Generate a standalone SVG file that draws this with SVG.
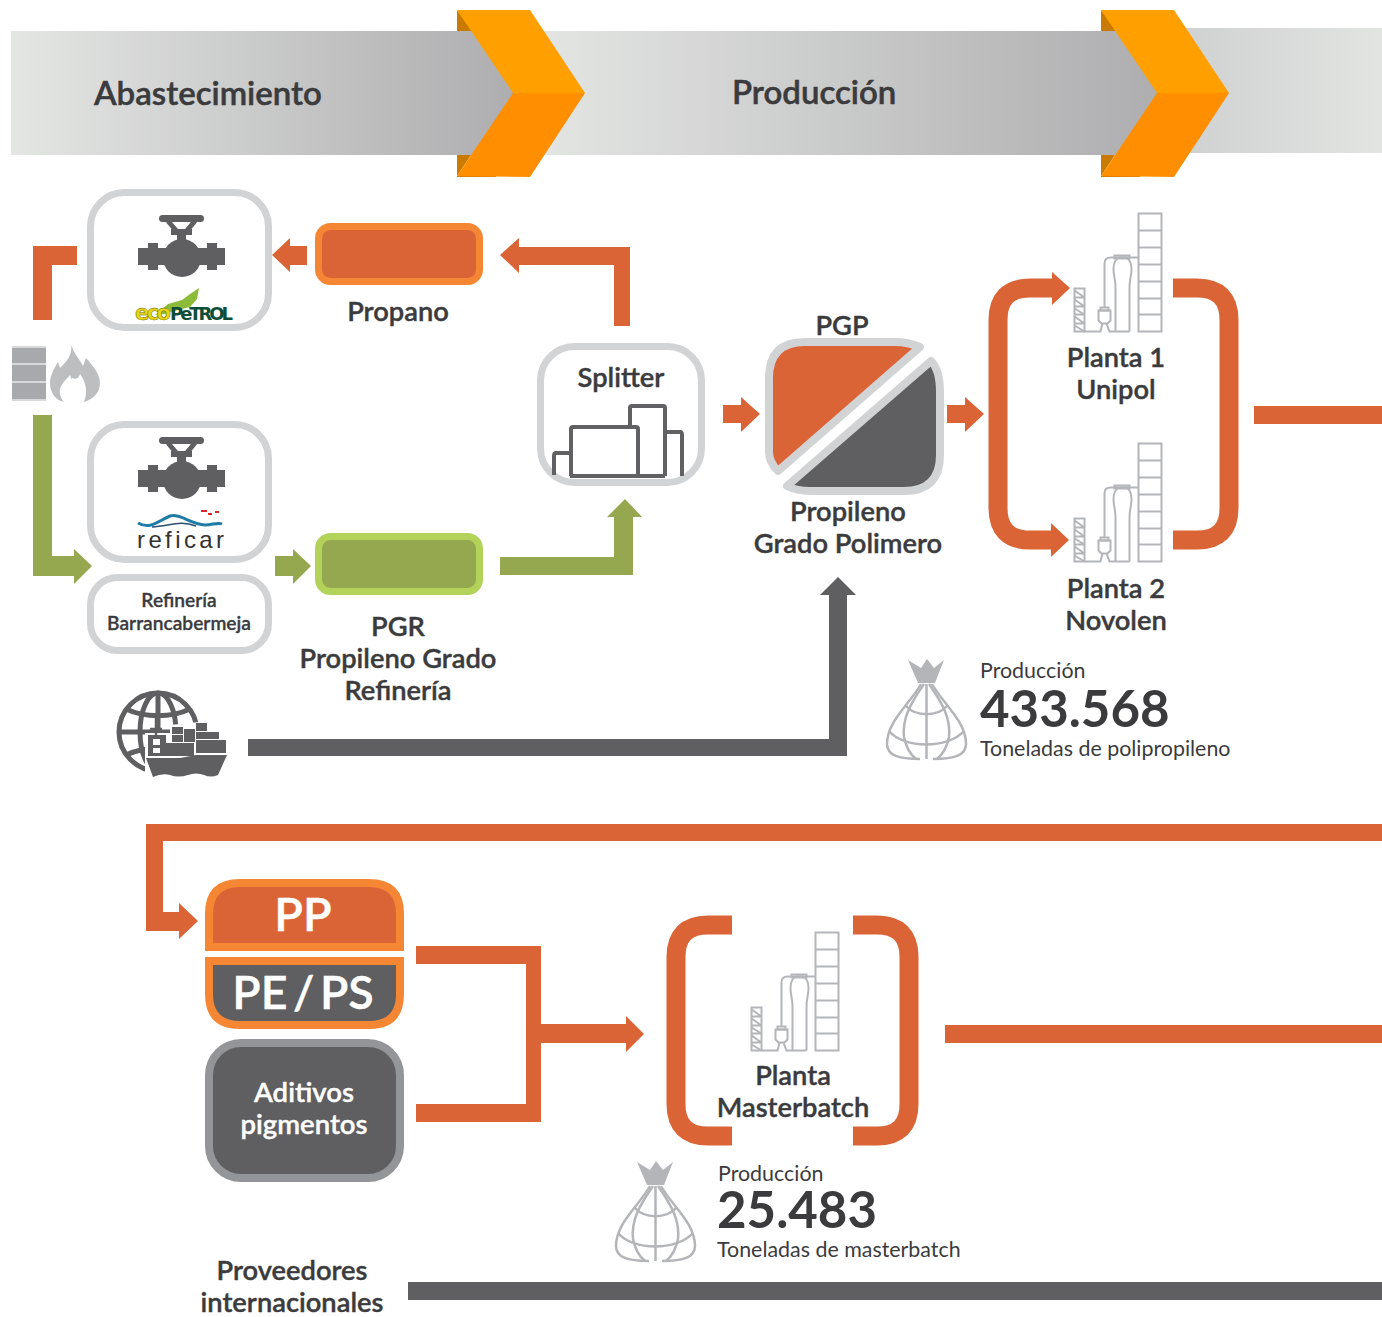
<svg xmlns="http://www.w3.org/2000/svg" xmlns:xlink="http://www.w3.org/1999/xlink" width="1382" height="1317" viewBox="0 0 1382 1317">
<style>
text{font-family:"Lato Semibold","Lato Medium",Lato,"Open Sans","Liberation Sans",sans-serif;fill:#3b3b3d}
.t{font-size:27.300px;font-weight:600;text-anchor:middle;stroke:#3b3b3d;stroke-width:.4}
.h{font-size:33px;font-weight:600;stroke:#3b3b3d;stroke-width:.5}
.s{font-size:21.400px;font-weight:400;font-family:Lato,"Liberation Sans",sans-serif}
.n{font-size:51px;font-weight:700;font-family:Lato,"Liberation Sans",sans-serif}
.w{text-anchor:middle;stroke:#fff;stroke-width:.4}
.o{fill:#db6437}.g{fill:#95a84f}.d{fill:#5f5f61}
.line{fill:none;stroke:#db6437;stroke-width:19}
.box{fill:#fff;stroke:#d2d3d5;stroke-width:7}
.pl{fill:none;stroke:#b4b5b8;stroke-width:2}
.bg{fill:none;stroke:#b4b5b8;stroke-width:2.5}
</style>
<defs>
<linearGradient id="b1" x1="0" x2="1" y1="0" y2="0"><stop offset="0" stop-color="#e4e6e4"/><stop offset="1" stop-color="#aeadaf"/></linearGradient>
<linearGradient id="b3" x1="0" x2="1" y1="0" y2="0"><stop offset="0" stop-color="#cfd0d0"/><stop offset="1" stop-color="#e2e4e2"/></linearGradient>
<g id="chev">
<polygon points="0,0 16,21 0,21" fill="#c97a00"/>
<polygon points="0,145 14,145 0,166" fill="#c97a00"/>
<polygon points="0,166 39,166 39,167 0,167" fill="#d97d00"/>
<polygon points="0,0 73,0 128,83 56,83" fill="#ffa000"/>
<polygon points="56,83 128,83 73,167 0,166" fill="#ff8f00"/>
</g>
<g id="valve" class="d">
<rect x="159" y="215" width="45" height="7" rx="3.500"/>
<path d="M168,221 L179,234 M195,221 L184,234" stroke="#5f5f61" stroke-width="5" fill="none"/>
<rect x="171" y="229" width="21" height="6"/>
<rect x="177" y="233" width="9" height="8"/>
<rect x="138" y="248" width="87" height="17"/>
<rect x="148" y="243" width="10" height="27"/>
<rect x="207" y="243" width="10" height="27"/>
<circle cx="182" cy="258" r="19"/>
</g>
<g id="plant" class="pl">
<rect x="64" y="0" width="23" height="118"/>
<path d="M64,17H87M64,34H87M64,51H87M64,68H87M64,85H87M64,101H87"/>
<path d="M64,44H36Q30,44 30,50V94"/>
<path d="M41,118V74C41,66 39,62 39,56C39,50 41,46 44,44H52C55,46 57,50 57,56C57,62 55,66 55,74V118"/>
<rect x="40" y="42" width="15" height="3"/>
<path d="M24,97H36V107L33,110H27L24,107Z"/>
<rect x="26" y="94" width="8" height="3"/>
<path d="M10,118H26L28,110M32,110L35,118H55"/>
<rect x="0" y="75" width="10" height="43"/>
<path d="M0,84H10M0,93H10M0,101H10M0,110H10M0,77L10,84M0,86L10,93M0,95L10,101M0,103L10,110M0,112L10,118"/>
</g>
<g id="bag">
<polygon points="22,1 35,9 41,0 48,9 58,1 49,24 32,24" fill="#b4b5b8"/>
<path class="bg" d="M35,25C24,45 1,62 1,85C1,96 12,100 34,100M46,25C57,45 80,62 80,85C80,96 69,100 47,100"/>
<path class="bg" d="M40.500,25V100M38,25C24,45 16,60 18,78C20,88 25,96 30,100M43,25C57,45 65,60 63,78C61,88 56,96 51,100"/>
<path class="bg" d="M20,47C30,58 51,58 61,47M3,72C18,90 62,90 78,72"/>
</g>
</defs>

<g id="band-abastecimiento">
<rect x="11" y="31" width="503" height="124" fill="url(#b1)"/>
<rect x="530" y="31" width="628" height="124" fill="url(#b1)"/>
<rect x="1175" y="28" width="207" height="125" fill="url(#b3)"/>
<use xlink:href="#chev" href="#chev" x="457" y="10"/>
<use xlink:href="#chev" href="#chev" x="1101" y="10"/>
<text class="h" x="94" y="105">Abastecimiento</text>
<text class="h" x="732" y="104">Producción</text>
</g>

<g id="connectors">
<polygon class="o" points="33,320 52,320 52,265 77,265 77,246 33,246"/>
<polygon class="o" points="272,255 290,238 290,246 307,246 307,265 290,265 290,272"/>
<polygon class="o" points="614,326 630,326 630,247 519,247 519,238 500,255 519,273 519,265 614,265"/>
<polygon class="g" points="33,415 52,415 52,556 74,556 74,549 92,566 74,584 74,576 33,576"/>
<polygon class="g" points="275,556 293,556 293,549 311,566 293,584 293,576 275,576"/>
<polygon class="g" points="500,557 614,557 614,517 607,517 625,499 642,517 633,517 633,575 500,575"/>
<polygon class="o" points="723,405 741,405 741,397 760,414 741,432 741,423 723,423"/>
<polygon class="o" points="947,405 965,405 965,397 984,414 965,432 965,423 947,423"/>
<polygon class="d" points="248,739 829,739 829,595 820,595 838,577 856,595 847,595 847,756 248,756"/>
<path class="line" d="M1054,288H1030Q998,288 998,320V508Q998,540 1030,540H1052"/>
<polygon class="o" points="1052,272 1070,288 1052,305"/>
<polygon class="o" points="1051,523 1069,540 1051,557"/>
<path class="line" d="M1173,288H1197Q1229,288 1229,320V508Q1229,540 1197,540H1173"/>
<rect class="o" x="1254" y="406" width="128" height="18"/>
<polygon class="o" points="1382,824 146,824 146,931 179,931 179,939 198,921 179,903 179,912 163,912 163,841 1382,841"/>
<polygon class="o" points="416,946 541,946 541,1024 626,1024 626,1016 644,1034 626,1052 626,1043 541,1043 541,1122 416,1122 416,1104 526,1104 526,964 416,964"/>
<path class="line" d="M732,925H708Q676,925 676,957V1104Q676,1136 708,1136H732"/>
<path class="line" d="M853,925H877Q909,925 909,957V1104Q909,1136 877,1136H853"/>
<rect class="o" x="945" y="1025" width="437" height="18"/>
<rect class="d" x="408" y="1282" width="974" height="18"/>
</g>

<g id="fuente">
<rect x="12" y="346" width="34" height="55" fill="#a7a9ac"/>
<path d="M12,347H46M12,364H46M12,382H46M12,400H46" stroke="#d8d9da" stroke-width="2"/>
<path d="M71,345C75,355 80,360 83,366L86,358C95,368 100,375 100,383C100,393 92,400 84,402C88,392 86,382 80,374C79,378 76,380 72,378C71,381 71,377 70,375C66,380 58,386 60,394C61,398 62,400 64,402C55,400 50,392 50,383C50,375 55,367 58,362L60,368C66,362 73,355 71,345Z" fill="#bcbec0"/>
</g>

<g id="ecopetrol">
<rect class="box" x="90.500" y="192.500" width="178" height="135" rx="34"/>
<use xlink:href="#valve" href="#valve"/>
<polygon points="155,315 168,304 182,300 190,294 199,288 197,299 190,307 178,310 165,314" fill="#8cbb3a"/>
<text x="135" y="320" font-size="21" font-weight="900" style="font-family:'DejaVu Sans',sans-serif;fill:#e8d410;stroke:#6a6a10;stroke-width:.5" textLength="36">eco</text>
<text x="170" y="320" font-size="18" font-weight="900" style="font-family:'DejaVu Sans',sans-serif;fill:#0e4d38" textLength="63">PeTROL</text>
</g>

<g id="reficar">
<rect class="box" x="90.500" y="424.500" width="178" height="135" rx="34"/>
<use xlink:href="#valve" href="#valve" y="222"/>
<path d="M138,523C150,530 158,521 170,516C180,513 190,524 205,525C212,525 218,522 222,524" fill="none" stroke="#1f7ca6" stroke-width="3"/>
<path d="M152,527C170,526 180,520 196,526" fill="none" stroke="#2b4f70" stroke-width="1.500"/>
<path d="M201,511H207M208,514H212M215,512H219" stroke="#e0262b" stroke-width="2"/>
<text x="137" y="548" font-size="24" font-weight="400" style="font-family:'Liberation Sans',sans-serif;fill:#333" textLength="87" lengthAdjust="spacing">reficar</text>
</g>

<g id="barranca">
<rect class="box" x="90.500" y="577.500" width="178" height="73" rx="27"/>
<text x="179" y="607" font-size="19.200" font-weight="600" text-anchor="middle" stroke="#3b3b3d" stroke-width=".3">Refinería</text>
<text x="179" y="630" font-size="19.200" font-weight="600" text-anchor="middle" stroke="#3b3b3d" stroke-width=".3">Barrancabermeja</text>
</g>

<g id="propano">
<rect x="318.500" y="226.500" width="161" height="55" rx="12" fill="#db6437" stroke="#f58634" stroke-width="7"/>
<text class="t" x="398" y="321">Propano</text>
</g>

<g id="pgr">
<rect x="318.500" y="536.500" width="161" height="55" rx="12" fill="#95a84f" stroke="#b3d25a" stroke-width="7"/>
<text class="t" x="398" y="636">PGR</text>
<text class="t" x="398" y="668">Propileno Grado</text>
<text class="t" x="398" y="700">Refinería</text>
</g>

<g id="splitter">
<rect class="box" x="540.500" y="346.500" width="161" height="136" rx="34"/>
<text class="t" x="621" y="387">Splitter</text>
<path d="M630,427V408Q630,406 632,406H663Q665,406 665,408V476M570,476H665M571,476V429Q571,427 573,427H636Q638,427 638,429V476M666,432H680Q682,432 682,435V476M570,453H556Q554,453 554,456V475" fill="none" stroke="#616163" stroke-width="4"/>
</g>

<g id="pgp">
<path d="M920,347Q908,342 895,342H805Q769,342 769,378V452Q769,462 778,471Z" fill="#db6437" stroke="#d2d3d5" stroke-width="8" stroke-linejoin="round"/>
<path d="M931,361Q940,370 940,392V455Q940,491 904,491H810Q797,491 787,486Z" fill="#5f5f61" stroke="#d2d3d5" stroke-width="8" stroke-linejoin="round"/>
<text class="t" x="842" y="335">PGP</text>
<text class="t" x="848" y="521">Propileno</text>
<text class="t" x="848" y="553">Grado Polimero</text>
</g>

<g id="planta1">
<use xlink:href="#plant" href="#plant" x="1074.500" y="213.500"/>
<text class="t" x="1116" y="367">Planta 1</text>
<text class="t" x="1116" y="399">Unipol</text>
</g>

<g id="planta2">
<use xlink:href="#plant" href="#plant" x="1074.500" y="443.500"/>
<text class="t" x="1116" y="598">Planta 2</text>
<text class="t" x="1116" y="630">Novolen</text>
</g>

<g id="prod1">
<use xlink:href="#bag" href="#bag" x="886" y="659"/>
<text class="s" x="980" y="678">Producción</text>
<text class="n" x="980" y="727">433.568</text>
<text class="s" x="980" y="756">Toneladas de polipropileno</text>
</g>

<g id="importacion">
<g fill="none" stroke="#5f5f61" stroke-width="5">
<circle cx="158" cy="732" r="39"/>
<ellipse cx="158" cy="732" rx="18" ry="39"/>
<path d="M158,693V770M126,709C145,718 171,718 190,709M119,732H197M126,755C145,746 171,746 190,755"/>
</g>
<polygon points="145,733 170,733 170,725 209,721 209,730 228,738 228,779 145,779" fill="#fff"/>
<path d="M156,718V735M150,729H162" stroke="#5f5f61" stroke-width="2.500" fill="none"/>
<path d="M148,735H166V756H148ZM153,739V745H160V739ZM153,748V753H160V748Z" fill="#5f5f61" fill-rule="evenodd"/>
<rect class="d" x="165" y="743" width="29" height="13"/>
<rect class="d" x="196" y="740" width="30" height="13"/>
<rect class="d" x="196" y="732" width="23" height="7"/>
<rect class="d" x="196" y="723" width="11" height="8"/>
<rect class="d" x="184" y="729" width="11" height="13"/>
<rect class="d" x="172" y="727" width="11" height="7"/>
<rect class="d" x="172" y="735" width="11" height="7"/>
<path d="M146,758L180,758L196,755L227,755L218,775Q211,778 204,775Q196,772 188,775Q178,778 170,775Q162,773 153,777Z" fill="#5f5f61"/>
</g>

<g id="pp">
<path d="M209,947V914Q209,883 240,883H369Q400,883 400,914V947Z" fill="#db6437" stroke="#f58634" stroke-width="8"/>
<text class="w" x="303" y="931" font-size="47" font-weight="600" style="fill:#fff">PP</text>
</g>

<g id="pe-ps">
<path d="M209,961H400V994Q400,1025 369,1025H240Q209,1025 209,994Z" fill="#5f5f61" stroke="#f58634" stroke-width="8"/>
<text class="w" x="303" y="1009" font-size="46.500" font-weight="600" word-spacing="-6" style="fill:#fff">PE / PS</text>
</g>

<g id="aditivos">
<rect x="209" y="1043" width="191" height="135" rx="32" fill="#5f5f61" stroke="#939598" stroke-width="8"/>
<text class="w" x="304" y="1102" font-size="27.500" font-weight="600" style="fill:#fff">Aditivos</text>
<text class="w" x="304" y="1134" font-size="27.500" font-weight="600" style="fill:#fff">pigmentos</text>
</g>

<g id="masterbatch">
<use xlink:href="#plant" href="#plant" x="751.500" y="932.500"/>
<text class="t" x="793" y="1085">Planta</text>
<text class="t" x="793" y="1117">Masterbatch</text>
</g>

<g id="prod2">
<use xlink:href="#bag" href="#bag" x="615" y="1161"/>
<text class="s" x="718" y="1181">Producción</text>
<text class="n" x="717" y="1228">25.483</text>
<text class="s" x="717" y="1257">Toneladas de masterbatch</text>
</g>

<g id="proveedores">
<text class="t" x="292" y="1280">Proveedores</text>
<text class="t" x="292" y="1312">internacionales</text>
</g>
</svg>
